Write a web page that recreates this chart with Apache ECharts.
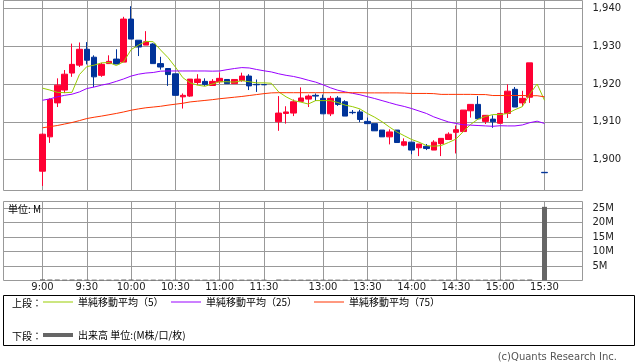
<!DOCTYPE html>
<html>
<head>
<meta charset="utf-8">
<script src="https://cdn.jsdelivr.net/npm/echarts@6.0.0/dist/echarts.min.js"></script>
<style>
html,body{margin:0;padding:0;background:#fff;}
#c{width:638px;height:362px;}
</style>
</head>
<body>
<div id="c"></div>
<script>
// ---- data ----
const tickIdx = [0, 6, 12, 18, 24, 30, 38, 44, 50, 56, 62, 68];
const tickLabels = ['9:00', '9:30', '10:00', '10:30', '11:00', '11:30', '13:00', '13:30', '14:00', '14:30', '15:00', '15:30'];
const priceTicks = [1900, 1910, 1920, 1930, 1940];
const volTicks = [5, 10, 15, 20, 25];

const open = [1896.9,1906.0,1915.0,1918.4,1922.9,1925.0,1929.2,1927.1,1922.3,1925.4,1926.6,1925.8,1937.2,1931.6,1930.3,1930.6,1925.4,1924.1,1922.7,1916.6,1916.8,1920.4,1920.7,1919.6,1920.6,1921.2,1920.1,1920.9,1922.1,1919.9,1919.85,null,1910.0,1912.2,1912.3,1915.4,1916.0,1917.0,1916.2,1912.1,1916.3,1915.3,1912.5,1912.6,1910.1,1909.5,1907.8,1906.0,1907.8,1903.8,1904.6,1903.1,1903.5,1902.5,1904.2,1905.3,1907.2,1907.4,1912.9,1914.6,1910.1,1910.7,1909.6,1912.2,1918.6,1915.0,1916.5,null,1896.6];
const close = [1906.7,1915.9,1919.7,1922.6,1925.2,1929.2,1926.3,1921.9,1925.2,1926.0,1925.3,1937.2,1931.9,1929.8,1931.2,1925.4,1924.5,1922.5,1917.0,1917.0,1921.3,1921.3,1919.9,1920.7,1921.5,1920.1,1921.2,1922.1,1919.5,1919.8,1919.8,null,1912.3,1912.6,1915.3,1916.3,1916.8,1916.8,1912.1,1916.2,1914.6,1911.5,1912.4,1910.6,1909.5,1907.6,1906.0,1907.3,1904.5,1904.7,1902.5,1904.1,1902.9,1904.6,1905.6,1906.7,1907.9,1913.1,1914.6,1910.8,1911.7,1910.0,1912.2,1918.1,1913.9,1916.2,1925.6,null,1896.5];
const low = [1893.0,1904.4,1913.9,1917.6,1921.9,1924.5,1925.2,1919.2,1921.9,1925.4,1925.3,1925.8,1931.9,1927.4,1930.3,1925.4,1923.8,1919.5,1917.0,1913.5,1916.6,1919.7,1919.5,1919.6,1920.1,1920.1,1920.1,1920.6,1918.4,1917.9,1919.8,null,1907.6,1909.5,1911.5,1915.4,1913.9,1915.5,1912.1,1911.5,1914.2,1911.5,1912.0,1909.9,1909.5,1907.6,1906.0,1904.0,1904.5,1903.5,1901.4,1900.9,1902.5,1902.5,1900.9,1905.3,1901.6,1907.4,1911.1,1910.8,1909.4,1908.4,1909.4,1911.0,1913.9,1914.1,1915.0,null,1896.5];
const high = [1906.9,1916.2,1921.5,1923.7,1930.7,1931.0,1931.1,1927.6,1925.6,1927.6,1929.2,1937.8,1940.6,1931.6,1934.0,1930.8,1927.2,1924.1,1922.7,1917.5,1921.3,1922.6,1921.5,1921.3,1923.0,1921.2,1921.2,1923.0,1922.6,1921.2,1919.85,null,1916.8,1914.1,1915.9,1919.1,1917.2,1917.5,1917.2,1916.8,1916.8,1915.7,1913.1,1913.2,1911.1,1909.5,1907.8,1908.0,1907.8,1905.6,1904.6,1904.1,1904.1,1905.1,1905.6,1907.2,1909.0,1913.1,1914.6,1916.8,1911.7,1911.7,1912.2,1919.9,1919.2,1918.2,1925.6,null,1896.6];

const ma5 = [1918.9,1918.4,1917.8,1917.7,1917.8,1922.5,1924.6,1925.0,1925.6,1925.7,1924.9,1925.9,1929.1,1930.3,1931.3,1931.2,1929.0,1927.0,1924.5,1921.7,1920.3,1919.7,1919.4,1920.0,1920.6,1920.6,1920.5,1920.9,1920.6,1920.3,1920.3,1920.2,1917.9,1916.6,1915.6,1915.2,1914.7,1915.6,1915.6,1915.6,1915.1,1914.4,1914.0,1913.4,1912.2,1911.2,1910.0,1908.6,1907.3,1906.3,1905.3,1904.6,1903.7,1903.5,1903.7,1904.5,1905.4,1907.4,1909.3,1910.7,1911.4,1911.9,1911.9,1912.2,1913.2,1914.0,1917.3,1920.0,1915.7];
const ma25 = [1915.7,1916.05,1916.6,1917.0,1917.3,1917.9,1918.8,1919.2,1919.7,1920.1,1920.7,1921.35,1922.1,1922.6,1922.9,1923.05,1923.4,1923.45,1923.45,1923.45,1923.45,1923.45,1923.45,1923.4,1923.45,1923.8,1924.1,1924.35,1924.25,1923.85,1923.5,1923.2,1922.7,1922.3,1922.0,1921.55,1921.0,1920.5,1919.8,1919.0,1918.35,1917.9,1917.55,1917.15,1916.65,1916.15,1915.6,1915.05,1914.5,1914.05,1913.5,1912.85,1912.2,1911.3,1910.6,1909.95,1909.55,1909.2,1909.1,1909.0,1908.9,1908.8,1908.95,1908.9,1908.9,1909.15,1909.75,1910.15,1909.55];
const ma75 = [1908.4,1908.7,1909.0,1909.4,1909.8,1910.3,1910.85,1911.2,1911.5,1911.85,1912.2,1912.6,1913.05,1913.4,1913.7,1913.9,1914.1,1914.4,1914.65,1914.9,1915.25,1915.45,1915.65,1915.85,1916.1,1916.3,1916.5,1916.7,1916.95,1917.2,1917.45,1917.65,1917.7,1917.7,1917.7,1917.7,1917.7,1917.7,1917.7,1917.7,1917.7,1917.7,1917.7,1917.7,1917.65,1917.65,1917.65,1917.65,1917.65,1917.6,1917.5,1917.5,1917.5,1917.45,1917.25,1917.25,1917.25,1917.25,1917.25,1917.2,1917.2,1916.95,1916.95,1916.95,1916.95,1916.95,1916.9,1916.9,1916.6];
const volume = [0.4,0.35,0.35,0.3,0.35,0.35,0.3,0.3,0.3,0.3,0.3,0.35,0.35,0.3,0.3,0.3,0.3,0.3,0.3,0.3,0.3,0.3,0.3,0.3,0.3,0.3,0.3,0.3,0.3,0.3,0.3,0,0.35,0.3,0.3,0.3,0.3,0.3,0.3,0.3,0.3,0.3,0.3,0.3,0.3,0.3,0.3,0.3,0.3,0.3,0.3,0.3,0.3,0.3,0.3,0.3,0.3,0.3,0.3,0.3,0.3,0.3,0.3,0.3,0.3,0.3,0.35,0,25.4];

const seriesNames = ['単純移動平均（5）', '単純移動平均（25）', '単純移動平均（75）', '出来高 単位:(M株/口/枚)'];

// ---- build ----
const candles = [];
for (let i = 0; i < open.length; i++) {
  if (open[i] != null) candles.push([i, open[i], close[i], low[i], high[i]]);
}
const toXY = arr => arr.map((v, i) => [i, v]);

const GRID = '#999';
const NUM_FONT = 'DejaVu Sans';
const JP_FONT = 'Noto Sans CJK JP';
const X_MIN = -5.283, X_MAX = 73.148;

function xAxisCfg(grid, labels) {
  return {
    type: 'value', gridIndex: grid, min: X_MIN, max: X_MAX,
    axisLine: { show: false },
    axisTick: { show: false, customValues: tickIdx },
    splitLine: { show: true, lineStyle: { color: GRID, width: 1 } },
    axisLabel: labels ? {
      show: true, customValues: tickIdx, margin: 2,
      fontFamily: NUM_FONT, fontSize: 10, color: '#222',
      formatter: v => tickLabels[tickIdx.indexOf(v)]
    } : { show: false }
  };
}

const chart = echarts.init(document.getElementById('c'), null, { renderer: 'canvas' });
chart.setOption({
  animation: false,
  backgroundColor: '#fff',
  grid: [
    { left: 3.5, top: 0.5, width: 579, height: 190, show: true, borderColor: GRID, borderWidth: 1, backgroundColor: 'transparent' },
    { left: 3.5, top: 201.5, width: 579, height: 79, show: true, borderColor: GRID, borderWidth: 1, backgroundColor: 'transparent' }
  ],
  xAxis: [xAxisCfg(0, false), xAxisCfg(1, true)],
  yAxis: [
    {
      type: 'value', gridIndex: 0, position: 'right', min: 1891.79, max: 1942.12,
      axisLine: { show: false },
      axisTick: { show: false, customValues: priceTicks },
      splitLine: { show: true, lineStyle: { color: GRID, width: 1 } },
      axisLabel: {
        customValues: priceTicks, margin: 10, fontFamily: NUM_FONT, fontSize: 10, color: '#222',
        formatter: v => v.toLocaleString('en-US')
      }
    },
    {
      type: 'value', gridIndex: 1, position: 'right', min: 0, max: 27.24,
      axisLine: { show: false },
      axisTick: { show: true, customValues: volTicks, length: 5, inside: false, lineStyle: { color: GRID } },
      splitLine: { show: true, lineStyle: { color: GRID, width: 1 } },
      axisLabel: {
        customValues: volTicks, margin: 10, fontFamily: NUM_FONT, fontSize: 10, color: '#222',
        formatter: v => v + 'M'
      }
    }
  ],
  legend: [
    { left: 43, top: 297, data: [seriesNames[0]], icon: 'rect', itemWidth: 30, itemHeight: 1, itemGap: 0, padding: 0,
      textStyle: { fontFamily: JP_FONT, fontSize: 10, color: '#000' }, selectedMode: false },
    { left: 171, top: 297, data: [seriesNames[1]], icon: 'rect', itemWidth: 30, itemHeight: 1, itemGap: 0, padding: 0,
      textStyle: { fontFamily: JP_FONT, fontSize: 10, color: '#000' }, selectedMode: false },
    { left: 314, top: 297, data: [seriesNames[2]], icon: 'rect', itemWidth: 30, itemHeight: 1, itemGap: 0, padding: 0,
      textStyle: { fontFamily: JP_FONT, fontSize: 10, color: '#000' }, selectedMode: false },
    { left: 43, top: 330, data: [seriesNames[3]], icon: 'rect', itemWidth: 30, itemHeight: 4, itemGap: 0, padding: 0,
      textStyle: { fontFamily: JP_FONT, fontSize: 10, color: '#000' }, selectedMode: false }
  ],
  graphic: [
    { type: 'rect', z: 0, shape: { x: 3.5, y: 295.5, width: 631, height: 50 }, style: { fill: '#fff', stroke: '#000', lineWidth: 1 } },
    { type: 'text', z: 5, x: 12, y: 303.5, style: { text: '上段：', font: '10px "Noto Sans CJK JP"', fill: '#000', verticalAlign: 'middle' } },
    { type: 'text', z: 5, x: 12, y: 336.5, style: { text: '下段：', font: '10px "Noto Sans CJK JP"', fill: '#000', verticalAlign: 'middle' } },
    { type: 'text', z: 5, x: 8, y: 209.5, style: { text: '単位: M', font: '10px "Noto Sans CJK JP"', fill: '#000', verticalAlign: 'middle' } },
    { type: 'text', z: 5, x: 617, y: 357, style: { text: '(c)Quants Research Inc.', font: '10px "DejaVu Sans"', fill: '#555', align: 'right', verticalAlign: 'middle' } }
  ],
  series: [
    {
      type: 'candlestick', name: '株価', xAxisIndex: 0, yAxisIndex: 0,
      data: candles, encode: { x: 0, y: [1, 2, 3, 4] }, barWidth: 6,
      itemStyle: { color: '#ff0033', color0: '#003399', borderColor: '#ff0033', borderColor0: '#003399', borderWidth: 1 }
    },
    { type: 'line', name: seriesNames[0], xAxisIndex: 0, yAxisIndex: 0, data: toXY(ma5), showSymbol: false, symbol: 'none',
      color: '#99cc00', lineStyle: { width: 1, color: '#99cc00' } },
    { type: 'line', name: seriesNames[1], xAxisIndex: 0, yAxisIndex: 0, data: toXY(ma25), showSymbol: false, symbol: 'none',
      color: '#9900ff', lineStyle: { width: 1, color: '#9900ff' } },
    { type: 'line', name: seriesNames[2], xAxisIndex: 0, yAxisIndex: 0, data: toXY(ma75), showSymbol: false, symbol: 'none',
      color: '#ff3300', lineStyle: { width: 1, color: '#ff3300' } },
    { type: 'bar', name: seriesNames[3], xAxisIndex: 1, yAxisIndex: 1, data: toXY(volume), barWidth: 5,
      color: '#666', itemStyle: { color: '#666' } }
  ]
});
</script>
</body>
</html>
